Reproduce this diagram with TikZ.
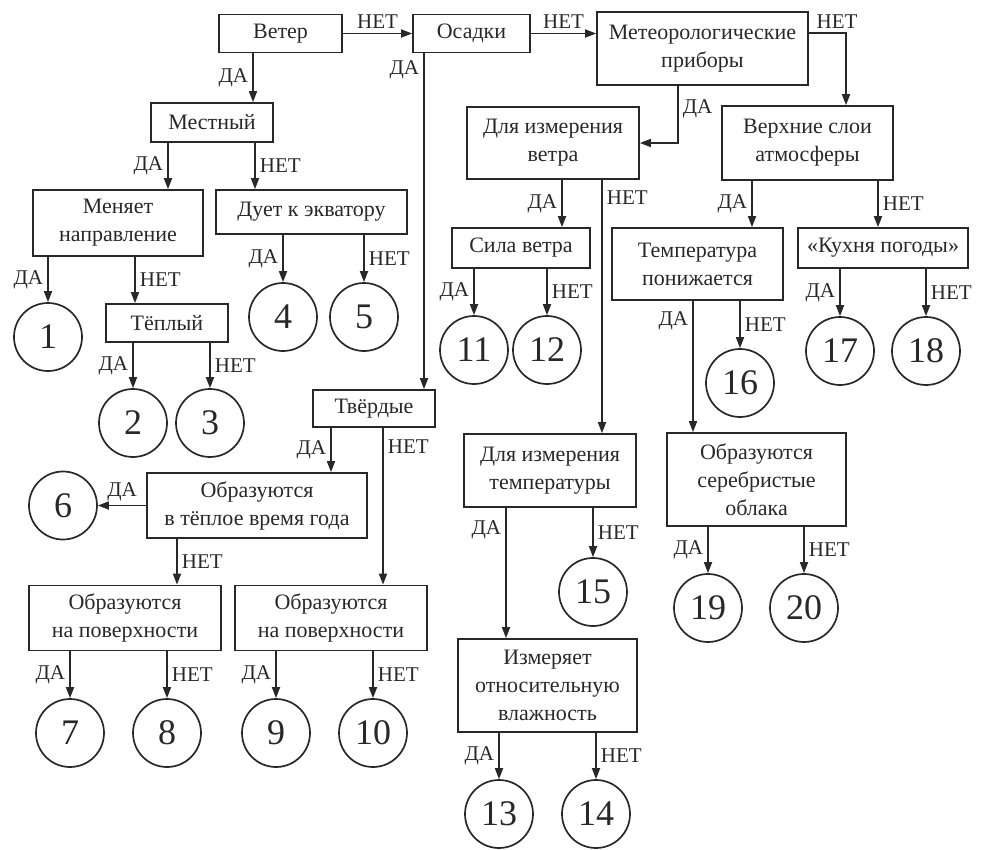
\documentclass[tikz,border=0pt]{standalone}
\usepackage{fontspec}
\setmainfont{Liberation Serif}
\usetikzlibrary{arrows.meta}
\definecolor{ink}{RGB}{40,40,40}

\begin{document}
\begin{tikzpicture}[x=1pt, y=-1pt, line width=1.7pt,
	box/.style={draw=ink, text=ink, rectangle, align=center, inner sep=2pt, font=\fontsize{22}{28}\selectfont},
	num/.style={draw=ink, text=ink, circle, minimum size=68pt, inner sep=0pt, font=\fontsize{36}{36}\selectfont},
	lbl/.style={text=ink, inner sep=4pt, font=\fontsize{21}{24}\selectfont},
	arr/.style={draw=ink, -{Triangle[length=11pt,width=8pt]}}]
	
	\useasboundingbox (0,0) rectangle (1007,849);
	
	% question boxes
	\node[box, minimum width=123pt, minimum height=38pt] (veter) at (280.5,33.5) {Ветер};
	\node[box, minimum width=117pt, minimum height=38pt] (osadki) at (471.5,33.5) {Осадки};
	\node[box, minimum width=211pt, minimum height=73pt] (meteo) at (702.5,48.5) {Метеорологические\\приборы};
	\node[box, minimum width=122pt, minimum height=39pt] (mestny) at (212,122.5) {Местный};
	\node[box, minimum width=170pt, minimum height=66pt] (menyaet) at (118,223) {Меняет\\направление};
	\node[box, minimum width=191pt, minimum height=44pt] (duet) at (311.5,212) {Дует к экватору};
	\node[box, minimum width=122pt, minimum height=38pt] (teply) at (167,323) {Тёплый};
	\node[box, minimum width=122pt, minimum height=37pt] (tverd) at (374,408.5) {Твёрдые};
	\node[box, minimum width=220pt, minimum height=65pt] (obrwarm) at (257,505.5) {Образуются\\в тёплое время года};
	\node[box, minimum width=192pt, minimum height=65pt] (surfa) at (125,618) {Образуются\\на поверхности};
	\node[box, minimum width=192pt, minimum height=65pt] (surfb) at (331,618) {Образуются\\на поверхности};
	\node[box, minimum width=172pt, minimum height=72pt] (vetra) at (553,143) {Для измерения\\ветра};
	\node[box, minimum width=171pt, minimum height=74pt] (verh) at (807.5,143) {Верхние слои\\атмосферы};
	\node[box, minimum width=138pt, minimum height=40pt] (sila) at (521,248) {Сила ветра};
	\node[box, minimum width=171pt, minimum height=72pt] (temppon) at (697.5,264) {Температура\\понижается};
	\node[box, minimum width=170pt, minimum height=40pt] (kuhnya) at (883,248) {«Кухня погоды»};
	\node[box, minimum width=179pt, minimum height=93pt] (serebr) at (756.5,479.5) {Образуются\\серебристые\\облака};
	\node[box, minimum width=172pt, minimum height=73pt] (tempmeas) at (550,470.5) {Для измерения\\температуры};
	\node[box, minimum width=179pt, minimum height=93pt] (izmer) at (547.5,685.5) {Измеряет\\относительную\\влажность};
	
	% answers
	\foreach \k/\px/\py in {1/48/337, 2/133/423, 3/210/423, 4/283/317, 5/364/317,
		6/63/505.5, 7/70/733, 8/167/733, 9/276/733, 10/373/733,
		11/474/350, 12/547/350, 13/499/814, 14/596/814, 15/593/592,
		16/740/383, 17/840/351, 18/926/351, 19/708/608, 20/804/608}{
		\node[num] (c\k) at (\px,\py) {\k};
	}
	
	% top row
	\draw[arr] (veter.east) -- (osadki.west) node[lbl, midway, above] {НЕТ};
	\draw[arr] (osadki.east) -- (osadki.east -| meteo.west) node[lbl, midway, above] {НЕТ};
	\draw[arr] ([yshift=15.5pt]meteo.east) -| ([xshift=38.5pt]verh.north) node[lbl, pos=0.38, above] {НЕТ};
	\draw[arr] ([xshift=-24.5pt]meteo.south) |- (vetra.east) node[lbl, pos=0.2, right] {ДА};
	
	% wind
	\draw[arr] ([xshift=-27.5pt]veter.south) -- ([xshift=-27.5pt]veter.south |- mestny.north) node[lbl, midway, left] {ДА};
	\draw[arr] ([xshift=-44pt]mestny.south) -- ([xshift=-44pt]mestny.south |- menyaet.north) node[lbl, midway, left] {ДА};
	\draw[arr] ([xshift=43pt]mestny.south) -- ([xshift=43pt]mestny.south |- duet.north) node[lbl, midway, right] {НЕТ};
	\draw[arr] (c1 |- menyaet.south) -- (c1) node[lbl, midway, left] {ДА};
	\draw[arr] ([xshift=17pt]menyaet.south) -- ([xshift=17pt]menyaet.south |- teply.north) node[lbl, midway, right] {НЕТ};
	\draw[arr] (c2 |- teply.south) -- (c2) node[lbl, midway, left] {ДА};
	\draw[arr] (c3 |- teply.south) -- (c3) node[lbl, midway, right] {НЕТ};
	\draw[arr] (c4 |- duet.south) -- (c4) node[lbl, midway, left] {ДА};
	\draw[arr] (c5 |- duet.south) -- (c5) node[lbl, midway, right] {НЕТ};
	
	% precipitation
	\draw[arr] ([xshift=-47.5pt]osadki.south) -- ([xshift=-47.5pt]osadki.south |- tverd.north) node[lbl, pos=0.05, left] {ДА};
	\draw[arr] ([xshift=-43pt]tverd.south) -- ([xshift=-43pt]tverd.south |- obrwarm.north) node[lbl, midway, left] {ДА};
	\draw[arr] ([xshift=9pt]tverd.south) -- ([xshift=9pt]tverd.south |- surfb.north) node[lbl, pos=0.12, right] {НЕТ};
	\draw[arr] (obrwarm.west) -- (c6) node[lbl, midway, above] {ДА};
	\draw[arr] ([xshift=-80pt]obrwarm.south) -- ([xshift=-80pt]obrwarm.south |- surfa.north) node[lbl, midway, right] {НЕТ};
	\draw[arr] (c7 |- surfa.south) -- (c7) node[lbl, midway, left] {ДА};
	\draw[arr] (c8 |- surfa.south) -- (c8) node[lbl, midway, right] {НЕТ};
	\draw[arr] (c9 |- surfb.south) -- (c9) node[lbl, midway, left] {ДА};
	\draw[arr] (c10 |- surfb.south) -- (c10) node[lbl, midway, right] {НЕТ};
	
	% instruments
	\draw[arr] ([xshift=9pt]vetra.south) -- ([xshift=9pt]vetra.south |- sila.north) node[lbl, midway, left] {ДА};
	\draw[arr] ([xshift=49pt]vetra.south) -- ([xshift=49pt]vetra.south |- tempmeas.north) node[lbl, pos=0.07, right] {НЕТ};
	\draw[arr] (c11 |- sila.south) -- (c11) node[lbl, midway, left] {ДА};
	\draw[arr] (c12 |- sila.south) -- (c12) node[lbl, midway, right] {НЕТ};
	\draw[arr] ([xshift=-44pt]tempmeas.south) -- ([xshift=-44pt]tempmeas.south |- izmer.north) node[lbl, pos=0.17, left] {ДА};
	\draw[arr] (c15 |- tempmeas.south) -- (c15) node[lbl, midway, right] {НЕТ};
	\draw[arr] (c13 |- izmer.south) -- (c13) node[lbl, midway, left] {ДА};
	\draw[arr] (c14 |- izmer.south) -- (c14) node[lbl, midway, right] {НЕТ};
	
	% upper atmosphere
	\draw[arr] ([xshift=-55.5pt]verh.south) -- ([xshift=-55.5pt]verh.south |- temppon.north) node[lbl, midway, left] {ДА};
	\draw[arr] ([xshift=70.5pt]verh.south) -- ([xshift=70.5pt]verh.south |- kuhnya.north) node[lbl, midway, right] {НЕТ};
	\draw[arr] (c17 |- kuhnya.south) -- (c17) node[lbl, midway, left] {ДА};
	\draw[arr] (c18 |- kuhnya.south) -- (c18) node[lbl, midway, right] {НЕТ};
	\draw[arr] ([xshift=-4.5pt]temppon.south) -- ([xshift=-4.5pt]temppon.south |- serebr.north) node[lbl, pos=0.15, left] {ДА};
	\draw[arr] (c16 |- temppon.south) -- (c16) node[lbl, midway, right] {НЕТ};
	\draw[arr] (c19 |- serebr.south) -- (c19) node[lbl, midway, left] {ДА};
	\draw[arr] (c20 |- serebr.south) -- (c20) node[lbl, midway, right] {НЕТ};
	
\end{tikzpicture}
\end{document}
